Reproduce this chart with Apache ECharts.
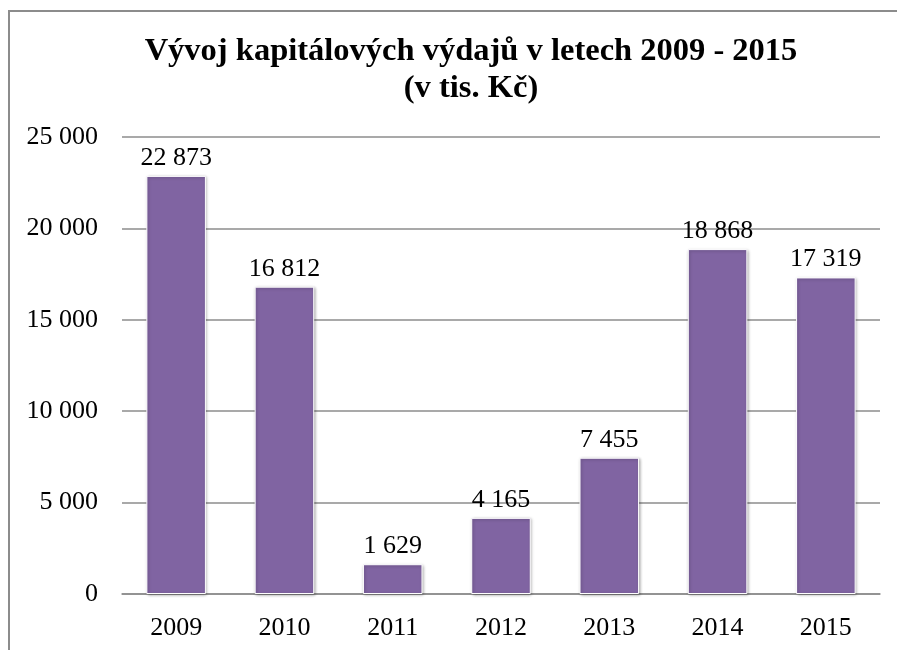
<!DOCTYPE html>
<html>
<head>
<meta charset="utf-8">
<script src="https://cdn.jsdelivr.net/npm/echarts@6/dist/echarts.min.js"></script>
<style>
  html, body { margin: 0; padding: 0; background: #fff; }
  .frame {
    position: absolute; left: 8px; top: 10px; width: 900px; height: 660px;
    border-left: 2px solid #8c8c8c; border-top: 2px solid #8c8c8c;
  }
  #chart { position: absolute; left: 0; top: 0; width: 897px; height: 650px; }
</style>
</head>
<body>
<div class="frame"></div>
<div id="chart"></div>
<script>
const years = ['2009', '2010', '2011', '2012', '2013', '2014', '2015'];
const spending = [22873, 16812, 1629, 4165, 7455, 18868, 17319];
const yTicks = [0, 5000, 10000, 15000, 20000, 25000];

const fontFamily = '"Liberation Serif", "Times New Roman", serif';

function fmt(v) {
  return String(v).replace(/\B(?=(\d{3})+(?!\d))/g, ' ');
}

const chart = echarts.init(document.getElementById('chart'));

chart.setOption({
  animation: false,
  title: {
    text: 'Vývoj kapitálových výdajů v letech 2009 - 2015\n(v tis. Kč)',
    left: 466,
    textAlign: 'center',
    top: 28,
    textStyle: {
      fontFamily: fontFamily,
      fontSize: 32.5,
      fontWeight: 'bold',
      color: '#000',
      lineHeight: 37
    }
  },
  grid: { left: 122, right: 17, top: 137, bottom: 56, containLabel: false },
  xAxis: {
    type: 'category',
    data: years,
    axisLine: { lineStyle: { color: '#8c8c8c', width: 1.5 } },
    axisTick: { show: false },
    axisLabel: {
      fontFamily: fontFamily,
      fontSize: 26,
      color: '#000',
      margin: 21
    }
  },
  yAxis: {
    type: 'value',
    min: yTicks[0],
    max: yTicks[yTicks.length - 1],
    interval: 5000,
    axisLine: { show: false },
    axisTick: { show: false },
    splitLine: { lineStyle: { color: '#8c8c8c', width: 1.5 } },
    axisLabel: {
      fontFamily: fontFamily,
      fontSize: 26,
      color: '#000',
      margin: 24,
      formatter: v => fmt(v)
    }
  },
  series: [
    {
      type: 'bar',
      data: spending,
      barWidth: '55%',
      itemStyle: {
        color: '#8064a2',
        borderColor: '#ffffff',
        borderWidth: 1,
        shadowColor: 'rgba(0,0,0,0.3)',
        shadowBlur: 3,
        shadowOffsetX: 1,
        shadowOffsetY: 1
      },
      label: {
        show: true,
        position: 'top',
        distance: 5,
        fontFamily: fontFamily,
        fontSize: 26,
        color: '#000',
        formatter: p => fmt(p.value)
      }
    }
  ]
});
</script>
</body>
</html>
